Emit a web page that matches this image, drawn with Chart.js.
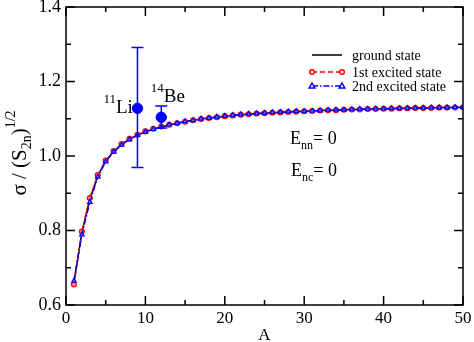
<!DOCTYPE html>
<html>
<head>
<meta charset="utf-8">
<script src="https://cdn.jsdelivr.net/npm/chart.js@4/dist/chart.umd.min.js"></script>
<style>
  html, body { margin: 0; padding: 0; background: #fff; }
  #wrap { width: 474px; height: 342px; }
</style>
</head>
<body>
<div id="wrap"><canvas id="chart" width="474" height="342"></canvas></div>
<script>
const massNumbers = [1, 2, 3, 4, 5, 6, 7, 8, 9, 10, 11, 12, 13, 14, 15, 16, 17, 18, 19, 20,
  21, 22, 23, 24, 25, 26, 27, 28, 29, 30, 31, 32, 33, 34, 35, 36, 37, 38, 39, 40,
  41, 42, 43, 44, 45, 46, 47, 48, 49, 50];

const groundState = [0.660, 0.795, 0.884, 0.947, 0.987, 1.012, 1.031, 1.045, 1.056, 1.065,
  1.072, 1.078, 1.083, 1.088, 1.092, 1.096, 1.099, 1.102, 1.104, 1.107,
  1.109, 1.111, 1.112, 1.114, 1.115, 1.116, 1.117, 1.118, 1.119, 1.120,
  1.121, 1.122, 1.123, 1.123, 1.124, 1.125, 1.125, 1.126, 1.126, 1.127,
  1.127, 1.128, 1.128, 1.129, 1.129, 1.129, 1.130, 1.130, 1.130, 1.131];

const firstExcited = [0.655, 0.797, 0.887, 0.949, 0.988, 1.013, 1.032, 1.046, 1.057, 1.066,
  1.073, 1.079, 1.084, 1.088, 1.092, 1.096, 1.099, 1.102, 1.104, 1.107,
  1.109, 1.111, 1.112, 1.114, 1.115, 1.116, 1.117, 1.118, 1.119, 1.120,
  1.121, 1.122, 1.123, 1.123, 1.124, 1.125, 1.125, 1.126, 1.126, 1.127,
  1.127, 1.128, 1.128, 1.129, 1.129, 1.129, 1.130, 1.130, 1.130, 1.131];

const secondExcited = [0.665, 0.789, 0.876, 0.944, 0.985, 1.011, 1.030, 1.045, 1.056, 1.065,
  1.072, 1.078, 1.084, 1.088, 1.093, 1.096, 1.100, 1.102, 1.105, 1.107,
  1.109, 1.111, 1.113, 1.114, 1.115, 1.117, 1.118, 1.119, 1.120, 1.120,
  1.121, 1.122, 1.123, 1.124, 1.124, 1.125, 1.126, 1.126, 1.127, 1.127,
  1.128, 1.128, 1.128, 1.129, 1.129, 1.130, 1.130, 1.130, 1.131, 1.131];

// measured nuclei
const expNames = [["11", "Li"], ["14", "Be"]];
const expA = [9, 12];
const expValue = [1.128, 1.104];
const expLow = [0.969, 1.075];
const expHigh = [1.291, 1.134];

const xMajorTicks = [0, 10, 20, 30, 40, 50];
const xMinorTicks = [5, 15, 25, 35, 45];
const yMajorTicks = [0.6, 0.8, 1.0, 1.2, 1.4];
const yMinorTicks = [0.7, 0.9, 1.1, 1.3];

const SERIF = "'Liberation Serif', 'DejaVu Serif', serif";
const pts = (ys) => ys.map((y, i) => ({ x: massNumbers[i], y }));

// draws text pieces [text, size, dy] left to right
function drawRich(ctx, pieces, x, y, align) {
  let total = 0;
  pieces.forEach((p) => {
    ctx.font = `${p[1]}px ${SERIF}`;
    total += ctx.measureText(p[0]).width;
  });
  let cx = align === "center" ? x - total / 2 : x;
  pieces.forEach((p) => {
    ctx.font = `${p[1]}px ${SERIF}`;
    ctx.fillText(p[0], cx, y + (p[2] || 0));
    cx += ctx.measureText(p[0]).width;
  });
}

const noPad = (s) => {
  s.paddingTop = 0;
  s.paddingBottom = 0;
  s.paddingLeft = 0;
  s.paddingRight = 0;
};

const framePlugin = {
  id: "frame",
  afterDatasetsDraw(chart) {
    const { ctx, chartArea: a, scales } = chart;
    const xs = scales.x, ys = scales.y;
    ctx.save();

    // error bars for measured points
    ctx.strokeStyle = "#0000ff";
    ctx.lineWidth = 1.5;
    expA.forEach((A, i) => {
      const px = xs.getPixelForValue(A);
      const lo = ys.getPixelForValue(expLow[i]);
      const hi = ys.getPixelForValue(expHigh[i]);
      ctx.beginPath();
      ctx.moveTo(px, lo); ctx.lineTo(px, hi);
      ctx.moveTo(px - 6, lo); ctx.lineTo(px + 6, lo);
      ctx.moveTo(px - 6, hi); ctx.lineTo(px + 6, hi);
      ctx.stroke();
    });

    // frame and inward ticks
    ctx.strokeStyle = "#000";
    ctx.lineWidth = 1.5;
    ctx.strokeRect(a.left, a.top, a.right - a.left, a.bottom - a.top);
    ctx.beginPath();
    const xt = (v, len) => {
      const p = xs.getPixelForValue(v);
      ctx.moveTo(p, a.bottom); ctx.lineTo(p, a.bottom - len);
      ctx.moveTo(p, a.top); ctx.lineTo(p, a.top + len);
    };
    const yt = (v, len) => {
      const p = ys.getPixelForValue(v);
      ctx.moveTo(a.left, p); ctx.lineTo(a.left + len, p);
      ctx.moveTo(a.right, p); ctx.lineTo(a.right - len, p);
    };
    xMajorTicks.forEach((v) => xt(v, 9));
    xMinorTicks.forEach((v) => xt(v, 5));
    yMajorTicks.forEach((v) => yt(v, 9));
    yMinorTicks.forEach((v) => yt(v, 5));
    ctx.stroke();

    // labels
    ctx.fillStyle = "#000";
    ctx.textBaseline = "alphabetic";
    expNames.forEach((n, i) => {
      const px = xs.getPixelForValue(expA[i]);
      const py = ys.getPixelForValue(expValue[i]);
      if (i === 0) drawRich(ctx, [[n[0], 13, -10], [n[1], 19, 0]], px - 34, py + 4.5, "left");
      else drawRich(ctx, [[n[0], 13, -10], [n[1], 19, 0]], px - 10.5, py - 15.5, "left");
    });

    drawRich(ctx, [["E", 18, 0], ["nn", 12, 5], ["= 0", 18, 0]], 290, 144, "left");
    drawRich(ctx, [["E", 18, 0], ["nc", 12, 5], ["= 0", 18, 0]], 291, 176, "left");

    drawRich(ctx, [["A", 17, 0]], (a.left + a.right) / 2, 340, "center");

    // y title (rotated)
    ctx.save();
    ctx.translate(26, 153);
    ctx.rotate(-Math.PI / 2);
    drawRich(ctx, [["σ / (S", 21, 0], ["2n", 14, 5], [")", 21, 0], ["1/2", 14, -11]], 0, 0, "center");
    ctx.restore();

    // legend
    const legendRows = [
      { label: "ground state", color: "#000", dash: [], marker: null, y: 55 },
      { label: "1st excited state", color: "#ff0000", dash: [5, 3], marker: "circle", y: 72 },
      { label: "2nd excited state", color: "#0000ff", dash: [6, 2, 1.5, 2], marker: "triangle", y: 86 },
    ];
    legendRows.forEach((r) => {
      ctx.strokeStyle = r.color;
      ctx.lineWidth = 1.5;
      ctx.setLineDash(r.dash);
      ctx.beginPath();
      ctx.moveTo(312, r.y); ctx.lineTo(342, r.y);
      ctx.stroke();
      ctx.setLineDash([]);
      [312, 342].forEach((mx) => {
        if (r.marker === "circle") {
          ctx.beginPath(); ctx.arc(mx, r.y, 2.3, 0, Math.PI * 2);
          ctx.fillStyle = "#fff"; ctx.fill(); ctx.stroke();
        } else if (r.marker === "triangle") {
          ctx.beginPath();
          ctx.moveTo(mx, r.y - 3); ctx.lineTo(mx + 2.8, r.y + 2); ctx.lineTo(mx - 2.8, r.y + 2);
          ctx.closePath(); ctx.fillStyle = "#fff"; ctx.fill(); ctx.stroke();
        }
      });
      ctx.fillStyle = "#000";
      ctx.font = `14px ${SERIF}`;
      ctx.fillText(r.label, 352, r.y + 4.5);
    });

    ctx.restore();
  },
};

new Chart(document.getElementById("chart"), {
  type: "scatter",
  data: {
    datasets: [
      {
        label: "measured",
        data: expA.map((A, i) => ({ x: A, y: expValue[i] })),
        backgroundColor: "#0000ff",
        borderColor: "#0000ff",
        pointRadius: 5.2,
        showLine: false,
        order: 0,
      },
      {
        label: "2nd excited state",
        data: pts(secondExcited),
        showLine: true,
        borderColor: "#0000ff",
        borderWidth: 1.5,
        borderDash: [6, 2, 1.5, 2],
        pointStyle: "triangle",
        pointRadius: 2.6,
        pointBorderWidth: 1.2,
        pointBorderColor: "#0000ff",
        pointBackgroundColor: "#8080ff",
        order: 1,
      },
      {
        label: "1st excited state",
        data: pts(firstExcited),
        showLine: true,
        borderColor: "#ff0000",
        borderWidth: 1.5,
        borderDash: [5, 3],
        pointStyle: "circle",
        pointRadius: 2.4,
        pointBorderWidth: 1.3,
        pointBorderColor: "#ff0000",
        pointBackgroundColor: "#ff9090",
        order: 2,
      },
      {
        label: "ground state",
        data: pts(groundState),
        showLine: true,
        borderColor: "#000",
        borderWidth: 1.5,
        pointRadius: 0,
        order: 3,
      },
    ],
  },
  options: {
    responsive: false,
    animation: false,
    layout: { padding: { top: 7, right: 11, left: 0, bottom: 0 } },
    plugins: { legend: { display: false }, tooltip: { enabled: false } },
    scales: {
      x: {
        type: "linear",
        min: 0,
        max: 50,
        afterFit: (s) => { s.height = 37; noPad(s); },
        afterBuildTicks: (s) => { s.ticks = xMajorTicks.map((v) => ({ value: v })); },
        grid: { display: false, drawTicks: false },
        border: { display: false },
        ticks: { color: "#000", padding: 3, font: { family: SERIF, size: 17 } },
      },
      y: {
        type: "linear",
        min: 0.6,
        max: 1.4,
        afterFit: (s) => { s.width = 66; noPad(s); },
        afterBuildTicks: (s) => { s.ticks = yMajorTicks.map((v) => ({ value: v })); },
        grid: { display: false, drawTicks: false },
        border: { display: false },
        ticks: {
          color: "#000",
          padding: 5,
          font: { family: SERIF, size: 18 },
          callback: (v) => Number(v).toFixed(1),
        },
      },
    },
  },
  plugins: [framePlugin],
});
</script>
</body>
</html>
